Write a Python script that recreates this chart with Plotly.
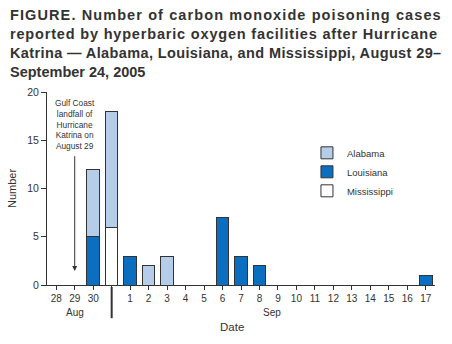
import plotly.graph_objects as go

# Data
categories = ["28", "29", "30", "31", "1", "2", "3", "4", "5", "6", "7", "8",
              "9", "10", "11", "12", "13", "14", "15", "16", "17"]
tick_labels = ["28", "29", "30", "", "1", "2", "3", "4", "5", "6", "7", "8",
               "9", "10", "11", "12", "13", "14", "15", "16", "17"]
alabama = [0, 0, 7, 12, 0, 2, 3, 0, 0, 0, 0, 0, 0, 0, 0, 0, 0, 0, 0, 0, 0]
louisiana = [0, 0, 5, 0, 3, 0, 0, 0, 0, 7, 3, 2, 0, 0, 0, 0, 0, 0, 0, 0, 1]
mississippi = [0, 0, 0, 6, 0, 0, 0, 0, 0, 0, 0, 0, 0, 0, 0, 0, 0, 0, 0, 0, 0]
y_ticks = [0, 5, 10, 15, 20]

pos = list(range(len(categories)))


def nz(vals):
    return [v if v else None for v in vals]


FONT = "Liberation Sans, Arial, sans-serif"
TXT = "#333333"
EDGE = "#333333"

fig = go.Figure()
fig.add_trace(go.Bar(x=pos, y=nz(louisiana), name="Louisiana", legendrank=2,
                     marker=dict(color="#0a6fc0", line=dict(color=EDGE, width=1))))
fig.add_trace(go.Bar(x=pos, y=nz(mississippi), name="Mississippi", legendrank=3,
                     marker=dict(color="#ffffff", line=dict(color=EDGE, width=1))))
fig.add_trace(go.Bar(x=pos, y=nz(alabama), name="Alabama", legendrank=1,
                     marker=dict(color="#b5cde8", line=dict(color=EDGE, width=1))))

fig.update_layout(
    width=452, height=344,
    margin=dict(l=40, r=17, t=92, b=59),
    barmode="stack", bargap=0.32,
    plot_bgcolor="white", paper_bgcolor="white",
    font=dict(family=FONT, color=TXT, size=10),
    showlegend=True,
    legend=dict(x=0.67, y=0.76, xanchor="left", yanchor="top", traceorder="normal",
                font=dict(size=9.5, color=TXT), bgcolor="rgba(0,0,0,0)",
                itemwidth=30, tracegroupgap=0),
)

fig.update_xaxes(
    range=[-0.5, 20.5], tickmode="array", tickvals=pos, ticktext=tick_labels,
    showline=True, linecolor=EDGE, linewidth=1, ticks="outside", ticklen=4,
    tickcolor=EDGE, showgrid=False, zeroline=False,
    tickfont=dict(size=10, color=TXT),
)
fig.update_yaxes(
    range=[0, 20], tickvals=y_ticks, showline=True, linecolor=EDGE, linewidth=1,
    ticks="outside", ticklen=5, tickcolor=EDGE, showgrid=False, zeroline=False,
    tickfont=dict(size=10.5, color=TXT),
    title=dict(text="Number", font=dict(size=11, color=TXT), standoff=8),
)

# Title (justified look via per-line letter spacing)
title_lines = [
    ("FIGURE. Number of carbon monoxide poisoning cases", 1.1),
    ("reported by hyperbaric oxygen facilities after Hurricane", 0.82),
    ("Katrina — Alabama, Louisiana, and Mississippi, August 29–", 0.38),
    ("September 24, 2005", 0),
]
title_html = "<br>".join(
    f'<span style="letter-spacing:{ls}px">{t}</span>' for t, ls in title_lines
)
fig.add_annotation(
    xref="paper", yref="paper", x=-40 / 395, y=1 + 87 / 193, xanchor="left", yanchor="top",
    align="left", showarrow=False,
    text=f"<b>{title_html}</b>",
    font=dict(size=14.5, color=TXT, family=FONT),
)

# Landfall annotation and arrow
fig.add_annotation(
    x=1, y=19.6, xref="x", yref="y", yanchor="top", showarrow=False,
    text="Gulf Coast<br>landfall of<br>Hurricane<br>Katrina on<br>August 29",
    font=dict(size=8.3, color=TXT, family=FONT), align="center",
)
fig.add_annotation(
    x=1, y=1.45, xref="x", yref="y", ax=1, ay=13.5, axref="x", ayref="y",
    text="", showarrow=True, arrowhead=2, arrowsize=1, arrowwidth=1,
    arrowcolor=EDGE,
)

# Month labels and separator
fig.add_annotation(x=1, y=-0.14, xref="x", yref="paper", yanchor="middle", text="Aug",
                   showarrow=False, font=dict(size=10, color=TXT))
fig.add_annotation(x=11.7, y=-0.14, xref="x", yref="paper", yanchor="middle", text="Sep",
                   showarrow=False, font=dict(size=10, color=TXT))
fig.add_annotation(x=9.5, y=-0.218, xref="x", yref="paper", yanchor="middle", text="Date",
                   showarrow=False, font=dict(size=11.5, color=TXT))
fig.add_shape(type="line", xref="x", yref="paper", x0=3, x1=3, y0=-0.01, y1=-0.172,
              line=dict(color=EDGE, width=2))

fig.write_html("out.html")
